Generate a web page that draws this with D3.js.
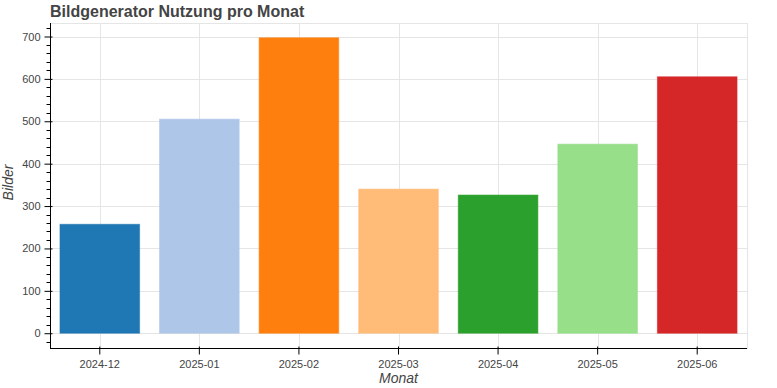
<!DOCTYPE html>
<html><head><meta charset="utf-8">
<script src="https://cdn.jsdelivr.net/npm/d3@7"></script>
<style>body{margin:0;background:#fff}svg{display:block}</style>
</head><body>
<script>
const months = ["2024-12","2025-01","2025-02","2025-03","2025-04","2025-05","2025-06"];
const images = [257, 505, 697, 340, 326, 446, 605];
const colors = ["#1f77b4","#aec7e8","#ff7f0e","#ffbb78","#2ca02c","#98df8a","#d62728"];
const yTicks = [0,100,200,300,400,500,600,700];

const W = 777, H = 388;
const L = 50, R = 747, T = 23, B = 348;
const font = "'Liberation Sans', Arial, Helvetica, sans-serif";
const svg = d3.select("body").append("svg").attr("width", W).attr("height", H);

const maxV = d3.max(images);
const pad = maxV * 0.05;
const y = d3.scaleLinear().domain([-pad, maxV + pad]).range([B, T]);
const x = d3.scaleBand().domain(months).range([L, R]).paddingInner(0.2).paddingOuter(0.1);
const xc = d => x(d) + x.bandwidth() / 2;

// frame outline
svg.append("rect").attr("x", L).attr("y", T).attr("width", R - L).attr("height", B - T)
  .attr("fill", "none").attr("stroke", "#e5e5e5").attr("stroke-width", 1)
  .attr("shape-rendering", "crispEdges");

// grid
const grid = svg.append("g").attr("stroke", "#e5e5e5").attr("stroke-width", 1).attr("shape-rendering", "crispEdges");
grid.selectAll(".gy").data(yTicks).join("line")
  .attr("x1", L).attr("x2", R).attr("y1", d => Math.round(y(d)) + 0.5).attr("y2", d => Math.round(y(d)) + 0.5);
grid.selectAll(".gx").data(months).join("line")
  .attr("y1", T).attr("y2", B).attr("x1", d => Math.round(xc(d)) + 0.5).attr("x2", d => Math.round(xc(d)) + 0.5);

// bars
svg.selectAll(".bar").data(months).join("rect")
  .attr("x", d => x(d)).attr("width", x.bandwidth())
  .attr("y", (d, i) => y(images[i])).attr("height", (d, i) => y(0) - y(images[i]))
  .attr("fill", (d, i) => colors[i])
  .attr("stroke", (d, i) => colors[i]).attr("stroke-opacity", 0.55).attr("stroke-width", 1);

// y axis
const yAxis = d3.axisLeft(y).tickValues(yTicks).tickSizeOuter(0).tickSizeInner(6).tickPadding(4);
const ya = svg.append("g").attr("transform", `translate(${L + 0.5},0)`).call(yAxis);
ya.select(".domain").attr("d", `M0,${T}V${B}`).attr("stroke", "#000");
ya.selectAll(".tick line").attr("x2", -6).attr("x1", 2).attr("stroke", "#000");
ya.selectAll(".tick text").attr("fill", "#444").attr("font-size", 11).attr("font-family", font).attr("x", -10);
// minor ticks
const minor = d3.range(-20, maxV + pad, 20).filter(v => v % 100 !== 0 && y(v) >= T && y(v) <= B);
ya.selectAll(".minor").data(minor).join("line").attr("class", "minor")
  .attr("x1", 0).attr("x2", -4).attr("y1", d => Math.round(y(d)) + 0.5).attr("y2", d => Math.round(y(d)) + 0.5)
  .attr("stroke", "#000");

// x axis
const xAxis = d3.axisBottom(x).tickSizeOuter(0).tickSizeInner(6).tickPadding(6);
const xa = svg.append("g").attr("transform", `translate(0,${B + 0.5})`).call(xAxis);
xa.select(".domain").attr("d", `M${L},0H${R}`).attr("stroke", "#000");
xa.selectAll(".tick line").attr("y1", -2).attr("y2", 6).attr("stroke", "#000");
xa.selectAll(".tick text").attr("fill", "#444").attr("font-size", 11).attr("font-family", font);

// titles
svg.append("text").attr("x", 50).attr("y", 17).text("Bildgenerator Nutzung pro Monat")
  .attr("font-family", font).attr("font-size", 16).attr("font-weight", "bold").attr("fill", "#444");
svg.append("text").attr("transform", `translate(13,${(T + B) / 2 - 3}) rotate(-90)`).attr("text-anchor", "middle")
  .text("Bilder").attr("font-family", font).attr("font-size", 14).attr("font-style", "italic").attr("fill", "#444");
svg.append("text").attr("x", (L + R) / 2).attr("y", 383).attr("text-anchor", "middle")
  .text("Monat").attr("font-family", font).attr("font-size", 14).attr("font-style", "italic").attr("fill", "#444");
</script>
</body></html>
